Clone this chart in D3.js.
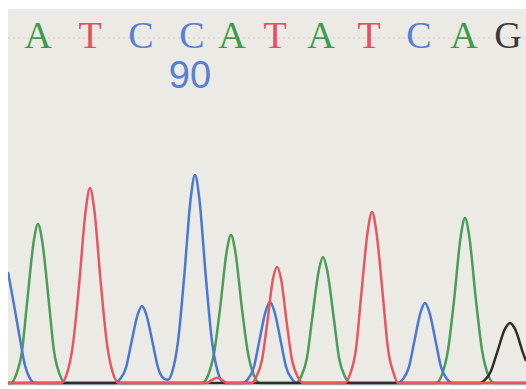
<!DOCTYPE html>
<html>
<head>
<meta charset="utf-8">
<script src="https://cdn.jsdelivr.net/npm/d3@7/dist/d3.min.js"></script>
<style>
  html, body { margin: 0; padding: 0; background: #ffffff; }
  svg { display: block; }
</style>
</head>
<body>
<div id="chart"></div>
<script>
// ---- Data (scan position, signal intensity) ----
const baseCalls = ["A", "T", "C", "C", "A", "T", "A", "T", "C", "A", "G"];
const basePositions = [30, 82, 133, 184, 224, 267, 313, 361, 411, 456, 500];
const positionLabels = [{ index: 3, text: "90" }];

const traceA = [[0,0],[3,0],[8,36],[14,145],[19,362],[26,651],[30,723],[34,651],[41,362],[46,145],[52,36],[57,0],
  [194,0],[200,34],[206,135],[212,337],[219,606],[223,673],[227,606],[234,337],[240,135],[246,34],[252,0],
  [288,0],[293,29],[299,115],[304,287],[311,516],[315,573],[319,516],[326,287],[331,115],[337,29],[342,0],
  [428,0],[434,38],[440,150],[446,375],[453,675],[457,750],[461,675],[468,375],[474,150],[480,38],[486,0],[518,0]];

const traceC = [[0,505],[6,355],[12,200],[17,80],[22,20],[27,0],
  [107,0],[112,18],[118,70],[123,175],[130,315],[134,350],[138,315],[145,175],[150,70],[156,20],
  [160,15],[164,47],[170,189],[176,473],[183,851],[187,945],[191,851],[198,473],[204,189],[210,47],[216,0],
  [235,0],[240,18],[246,74],[251,184],[258,331],[262,368],[266,331],[273,184],[278,74],[284,18],[289,0],
  [390,0],[395,18],[401,73],[406,182],[413,328],[417,364],[421,328],[428,182],[433,73],[439,18],[444,0],[518,0]];

const traceG = [[0,0],[472,0],[477,14],[483,55],[489,137],[497,246],[502,273],[507,246],[515,137],[518,100]];

const traceT = [[0,0],[53,0],[59,44],[65,177],[71,443],[78,797],[82,886],[86,797],[93,443],[99,177],[105,44],[111,0],
  [199,0],[204,14],[209,24],[214,14],[219,0],
  [244,0],[248,26],[254,105],[259,264],[265,474],[269,527],[273,474],[279,264],[284,105],[290,26],[295,0],
  [337,0],[342,39],[348,155],[353,389],[360,699],[364,777],[368,699],[375,389],[380,155],[386,39],[390,0],[518,0]];

const baseColors = { A: "#3f9a4c", T: "#e4505e", C: "#5580d6", G: "#3a3a3a" };
const traceColors = { A: "#4a9e55", T: "#e8575f", C: "#4a78d4", G: "#2e2e2e" };

// ---- Layout ----
const W = 526, H = 389;
const plot = { left: 8, top: 9, right: 526, bottom: 386 };

const svg = d3.select("#chart").append("svg").attr("width", W).attr("height", H);

svg.append("rect").attr("x", 0).attr("y", 0).attr("width", W).attr("height", H).attr("fill", "#ffffff");
svg.append("rect")
  .attr("x", plot.left).attr("y", plot.top)
  .attr("width", plot.right - plot.left).attr("height", plot.bottom - plot.top)
  .attr("fill", "#ebeae5");

svg.append("clipPath").attr("id", "clip").append("rect")
  .attr("x", plot.left).attr("y", plot.top)
  .attr("width", plot.right - plot.left).attr("height", plot.bottom - plot.top);

const x = d3.scaleLinear().domain([0, 518]).range([8, 526]);
const y = d3.scaleLinear().domain([0, 1000]).range([383, 163]);

const line = d3.line().x(d => x(d[0])).y(d => y(d[1])).curve(d3.curveMonotoneX);

const g = svg.append("g").attr("clip-path", "url(#clip)");

// faint dotted guide through base letters
g.append("line")
  .attr("x1", plot.left).attr("x2", plot.right)
  .attr("y1", 38).attr("y2", 38)
  .attr("stroke", "#ecc6cb").attr("stroke-width", 1).attr("stroke-dasharray", "2,3");

const traces = [
  { key: "A", data: traceA },
  { key: "C", data: traceC },
  { key: "G", data: traceG },
  { key: "T", data: traceT }
];

g.selectAll("path.trace").data(traces).join("path")
  .attr("class", "trace")
  .attr("d", d => line(d.data))
  .attr("fill", "none")
  .attr("stroke", d => traceColors[d.key])
  .attr("stroke-width", 2.5)
  .attr("stroke-linejoin", "round");

// base calls
g.selectAll("text.base").data(baseCalls).join("text")
  .attr("class", "base")
  .attr("x", (d, i) => x(basePositions[i]))
  .attr("y", 48)
  .attr("text-anchor", "middle")
  .attr("font-family", "'Liberation Serif', 'DejaVu Serif', serif")
  .attr("font-size", 38)
  .attr("fill", d => baseColors[d])
  .text(d => d);

// position label
g.selectAll("text.pos").data(positionLabels).join("text")
  .attr("class", "pos")
  .attr("x", d => x(basePositions[d.index]) - 2)
  .attr("y", 88)
  .attr("text-anchor", "middle")
  .attr("font-family", "'Liberation Sans', Arial, sans-serif")
  .attr("font-size", 38)
  .attr("fill", "#5580d6")
  .text(d => d.text);
</script>
</body>
</html>
